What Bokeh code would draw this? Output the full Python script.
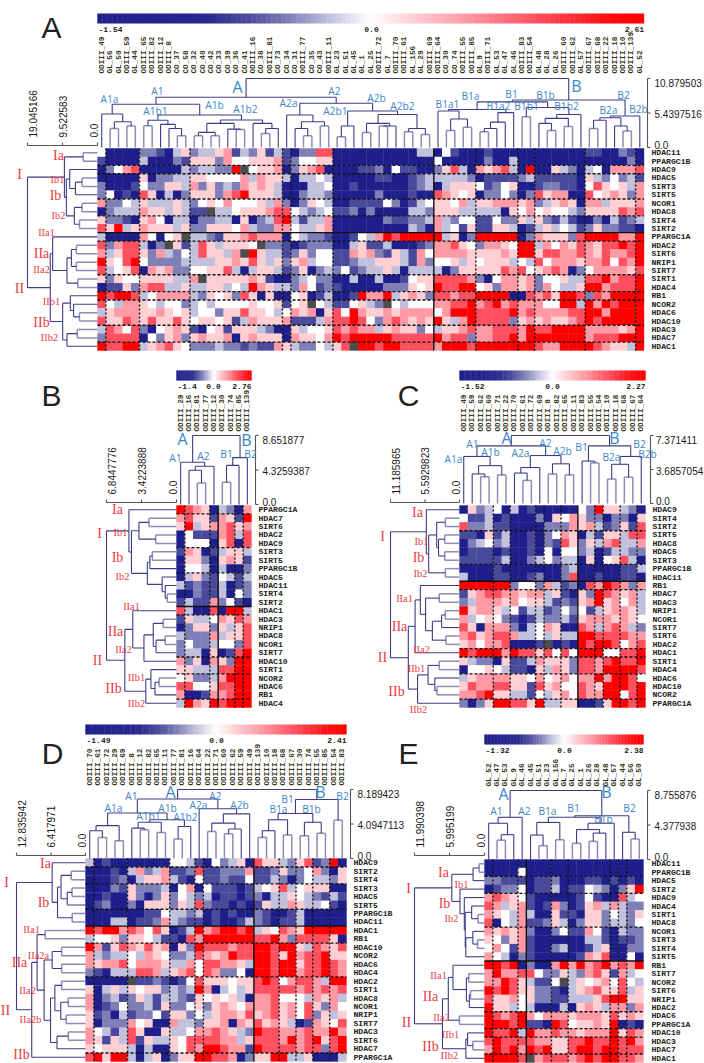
import math
from bokeh.plotting import figure, ColumnDataSource
from bokeh.models import LinearColorMapper
from bokeh.core.properties import value
from bokeh.transform import transform
from bokeh.embed import file_html
from bokeh.resources import INLINE

# ---------------- DATA ----------------
A_rows = "HDAC11 PPARGC1B HDAC9 HDAC5 SIRT3 SIRT5 NCOR1 HDAC8 SIRT4 SIRT2 PPARGC1A HDAC2 SIRT6 NRIP1 SIRT7 SIRT1 HDAC4 RB1 NCOR2 HDAC6 HDAC10 HDAC3 HDAC7 HDAC1".split()
A_cols = "ODIII_49 GL_56 GL_50 ODIII_59 GL_44 ODIII_65 ODIII_82 ODIII_12 ODIII_8 CO_37 CO_58 CO_32 CO_40 CO_42 CO_33 CO_39 CO_36 CO_41 ODIII_16 CO_38 ODIII_81 CO_73 CO_34 CO_31 ODIII_77 CO_35 CO_43 ODIII_11 GL_23 GL_51 GL_45 GL_1 GL_25 ODIII_72 GL_7 ODIII_70 ODIII_61 GL_156 GL_29 ODIII_69 ODIII_64 CO_30 CO_74 ODIII_55 ODIII_85 GL_9 ODIII_71 GL_53 GL_47 GL_46 ODIII_83 ODIII_54 GL_48 GL_28 GL_26 ODIII_60 ODIII_62 GL_57 ODIII_67 ODIII_68 ODIII_22 ODIII_18 ODIII_10 ODIII_139 GL_52".split()
A_cells = [
"4 0000 221035 23356132513 1 02277 000000000033 04100 01000 00 000000 110021 0",
"1 0000 300021 55526445556 1 24455 000000000000 40000 02003 00 000000 000002 0",
"0 2467 000003 233228x4556 0 25670 000112041100 25730 65673 08 005320 340666 7",
"0 0000 502233 55444463655 3 03343 000001100123 33332 01111 23 111110 532423 1",
"2 0001 422553 62523265653 0 00334 001000000123 03555 41245 00 122110 475453 6",
"2 4010 750302 55526785553 0 02332 000002000100 76545 02242 02 756600 745652 6",
"6 2243 533353 24546444536 2 02543 001111420134 55463 55666 56 235650 663555 6",
"0 2333 655353 11x33455567 7 43234 112020000332 55533 33305 46 454432 555576 7",
"5 2210 564033 02233050237 8 31336 000000211223 63244 11422 53 521310 020312 3",
"7 5835 655535 22555463226 6 43356 000000000320 63415 11553 01 353431 252211 0",
"3 0000 64045x 33215567666 0 43221 001436878888 83502 88888 02 655527 888866 8",
"7 2677 302x51 37535554x22 1 01222 003511300012 66754 26654 88 364657 657787 8",
"6 3577 526324 375536x8533 1 25244 116562153164 66665 55565 88 577667 657667 8",
"8 5478 422223 33355657535 2 56344 112335553162 44535 45553 43 746665 667476 8",
"7 3457 065622 44557303553 1 25023 241233530333 30255 55576 74 567602 466665 7",
"5 2544 555533 6x555556510 0 23422 003003001455 77776 20466 56 244533 778677 8",
"0 1152 677335 33553438653 3 26412 100000222545 87788 45266 56 264335 886777 8",
"8 7887 346666 32545275050 0 45013 001866835652 77677 88880 07 675887 276888 8",
"7 4366 543442 34344445445 1 45x43 114532x43444 66778 67867 66 644883 868788 8",
"3 5666 556545 34425575543 4 65605 748655656666 46888 77778 67 666677 886888 8",
"7 5576 575575 45545136555 6 11136 778742676565 85368 77772 56 565567 878888 8",
"3 7647 204565 10451555320 0 53445 767663565524 35567 66777 68 778888 666656 8",
"2 7777 042562 56556056555 0 65546 878888877777 86772 66778 68 888888 677788 8",
"8 7788 356754 22232212116 5 32243 57x887887777 68887 88888 88 766888 876553 8",
]
A_col_tree = [10.88,
 [7.92,
  [6.81,
   [5.28,0,[4.07,[3.0,0,0],[3.38,0,0]]],
   [5.12,
    [4.3,[3.43,0,0],[3.64,0,[3.0,0,[1.85,0,0]]]],
    [4.33,[3.8,[2.38,[1.85,0,0],[1.85,0,0]],[2.9,0,[2.85,0,0]]],[3.8,0,[3.0,[2.2,0,0],0]]]]],
  [6.97,
   [5.12,0,[4.07,[3.0,0,[1.85,0,0]],[3.38,0,0]]],
   [5.76,[3.38,[1.69,0,0],0],
    [5.2,[3.8,[2.38,0,0],[3.4,[3.38,0,0],0]],[3.0,[2.5,0,0],[2.05,0,0]]]]]],
 [7.5,
  [7.2,
   [6.0,[5.76,0,[4.5,[2.7,0,0],[3.2,0,0]]],[5.5,[4.0,[3.0,[2.5,0,0],0],0],0]],
   [6.3,[4.86,0,0],[5.2,[4.6,[3.8,0,[2.7,0,0]],[3.3,0,0]],0]]],
  [4.96,[4.7,[4.3,[3.0,0,0],0],[3.4,0,[2.6,0,0]]],0]]]
A_row_tree = [19.04,
 [9.0,[3.9,0,0],[8.47,[7.56,0,[6.0,[4.2,0,0],0]],[6.3,[4.2,0,0],[4.9,0,0]]]],
 [12.85,
  [12.2,0,[8.3,[7.1,[5.74,0,0],[5.74,0,0]],[5.37,0,0]]],
  [9.47,[7.4,0,[6.5,0,[4.9,0,0]]],[8.3,[5.5,0,0],0]]]]

B_rows = "PPARGC1A HDAC7 SIRT6 HDAC2 HDAC9 SIRT3 SIRT5 PPARGC1B HDAC5 HDAC11 SIRT4 SIRT2 HDAC1 HDAC3 NRIP1 HDAC8 NCOR1 SIRT7 HDAC10 SIRT1 NCOR2 HDAC6 RB1 HDAC4".split()
B_cols = "ODIII_29 ODIII_16 ODIII_81 ODIII_77 ODIII_12 ODIII_30 ODIII_74 ODIII_85 ODIII_139".split()
B_cells = ["876503206","675516518","583566756","041116737","044405707","165013553","055205651","044303002",
"035214313","312113012","002113042","131162410","730070883","153346576","025525357","322263557",
"242234427","233050178","625065288","553337788","452236888","774457788","600166788","386587888"]
B_col_tree = [8.65,[5.3,0,[4.8,[4.3,0,[2.7,0,0]],0]],[5.88,[4.9,[2.8,0,0],0],0]]
B_row_tree = [6.84,
 [4.65,0,[4.4,[3.67,[2.69,0,0],[2.03,0,0]],[2.85,[2.6,[2.36,0,0],0],[1.4,0,[1.1,0,[0.9,0,0]]]]]],
 [5.05,
  [4.27,0,[3.18,[2.27,[1.3,0,0],[2.0,[1.1,0,0],0]],0]],
  [3.0,[2.5,0,[2.1,[1.7,0,0],0]],0]]]

C_rows = "HDAC9 SIRT4 SIRT2 SIRT5 HDAC8 HDAC5 SIRT3 PPARGC1B HDAC11 RB1 HDAC7 HDAC3 NRIP1 NCOR1 SIRT7 SIRT6 HDAC2 HDAC1 SIRT1 HDAC4 HDAC6 HDAC10 NCOR2 PPARGC1A".split()
C_cols = "ODIII_49 ODIII_59 ODIII_62 ODIII_60 ODIII_71 ODIII_22 ODIII_70 ODIII_61 ODIII_72 ODIII_69 ODIII_8 ODIII_82 ODIII_65 ODIII_11 ODIII_83 ODIII_55 ODIII_54 ODIII_10 ODIII_18 ODIII_68 ODIII_67 ODIII_64".split()
C_cells = ["0523403010000042855320","4113010002054652202205","7223110000222656312517","1105130010246503155377",
"0234230010217525367336","0111010010404423013322","1111130023423305045730","0000100000002300000113",
"3000110012002700100110","8888882442631207687626","1567766566351052876563","2366656455312156856463",
"8566534133124241356653","6345421013223156665654","7506662034650076367632","6756776334353388777766",
"5646670001x01087887467","8788868775747488844778","5322051136555277678778","0445431105365277688887",
"3566665546456466868874","5766775517564476588878","6678553314356476688478","2025887758335500158878"]
C_col_tree = [7.37,
 [6.25,[5.1,0,[4.1,[3.2,0,[2.9,0,0]],[3.1,0,0]]],
  [5.2,[3.9,[3.3,0,[2.5,0,0]],0],[4.3,[3.2,0,0],[3.1,0,0]]]],
 [6.25,[4.6,0,[4.4,0,0]],[5.1,[4.25,[2.65,0,0],[2.85,0,0]],0]]]
C_row_tree = [11.19,
 [5.38,0,[5.0,[3.7,[2.3,0,0],[3.4,[2.4,0,0],[2.4,0,0]]],[2.3,0,0]]],
 [8.3,
  [7.2,[6.35,0,[5.5,[3.28,0,0],[4.4,[2.9,[2.3,0,0],0],[2.2,0,0]]]],0],
  [6.8,[5.1,[3.3,0,0],[4.0,0,[3.65,0,0]]],0]]]

D_rows = "HDAC9 SIRT2 SIRT4 SIRT3 HDAC5 SIRT5 PPARGC1B HDAC11 HDAC1 RB1 HDAC10 NCOR2 HDAC6 HDAC4 HDAC2 SIRT1 HDAC8 NCOR1 NRIP1 SIRT7 HDAC3 SIRT6 HDAC7 PPARGC1A".split()
D_cols = "ODIII_70 ODIII_61 ODIII_72 ODIII_29 ODIII_69 ODIII_8 ODIII_12 ODIII_82 ODIII_65 ODIII_11 ODIII_77 ODIII_81 ODIII_16 ODIII_64 ODIII_22 ODIII_71 ODIII_60 ODIII_62 ODIII_59 ODIII_49 ODIII_139 ODIII_10 ODIII_18 ODIII_68 ODIII_67 ODIII_30 ODIII_74 ODIII_55 ODIII_85 ODIII_54 ODIII_83".split()
D_cells = ["3010000000443104235075532571280","0001036236112711222611252246205","0001203556310411211411320243325",
"0002152223046041110134573455500","0010052025243230110120335432131","0120020555253721101015336533410",
"0000000114332301010021001300000","0003301126321101001321011300000","8788676475013867887835476588888",
"3445255431107688888877862777750","8615765756052877767788788537657","6323343654223765687788758677855",
"6566746665336477665388788577876","2103337763567476224088788677876","00000x1121014755545578746776388",
"5035354552323860343577777676767","6023125313321545453066744436563","6012422315224525654666756475264",
"5120312241552435665756756472535","5022264500633255606575653016547","6431375005334667653287766676686",
"6515371533547777663577768678578","5455530300547688766187777677278","7858830350255887760255883350003"]
D_col_tree = [8.19,
 [7.07,
  [5.4,
   [3.9,[3.3,0,[2.5,0,0]],[2.1,0,0]],
   [4.6,[4.3,[3.6,0,[3.4,0,0]],[3.1,0,0]],[3.8,[2.3,0,0],0]]],
  [5.9,0,[5.3,[4.2,[3.2,0,0],[3.5,[2.95,0,0],0]],0]]],
 [7.0,
  [5.35,[4.6,[3.3,[2.5,0,0],0],[2.8,0,0]],[4.3,[2.7,0,0],[3.0,0,0]]],
  [4.55,0,0]]]
D_row_tree = [12.83,
 [6.2,0,[5.2,[4.55,[2.65,0,0],[3.4,[2.5,0,0],0]],[2.47,0,0]]],
 [10.0,
  [9.0,[7.5,0,0],
   [7.7,[6.2,[4.44,0,0],[4.44,0,0]],
    [6.5,[5.7,[4.44,0,0],[4.6,[3.2,0,0],[3.6,0,0]]],[5.3,[3.2,0,0],0]]]],
  0]]

E_rows = "HDAC11 PPARGC1B HDAC5 SIRT2 HDAC9 HDAC4 SIRT1 HDAC8 NCOR1 SIRT3 SIRT4 SIRT5 RB1 SIRT7 NCOR2 SIRT6 NRIP1 HDAC2 HDAC6 PPARGC1A HDAC10 HDAC3 HDAC7 HDAC1".split()
E_cols = "GL_52 GL_47 GL_53 GL_9 GL_46 GL_45 GL_51 GL_23 GL_156 GL_7 GL_25 GL_1 GL_26 GL_28 GL_48 GL_57 GL_44 GL_56 GL_50".split()
E_cells = ["0000000000000000000","0000400000000000000","2211101120001101010","0122401130114320258",
"6765410000014100734","7635610162015636322","6543630051105524325","7043611253025523324",
"6565620024116410322","5425610000003310112","4641610023001350022","6430210000016570040",
"8878020068686786768","6866774225326751634","668753114x354564743","8787552210356755735",
"7556452211333578855","8553430003056536626","8767864666566657565","8887811087455658010",
"8778386676656668576","7877776655778778786","6878687855788788777","88887x6777678788776"]
E_col_tree = [8.75,
 [5.35,[4.6,0,[3.15,[2.45,0,0],0]],0],
 [5.55,
  [5.35,[4.7,[3.1,0,[1.75,0,0]],[2.5,0,0]],[4.6,[3.8,[2.05,0,0],[3.35,[2.3,0,0],0]],0]],
  [3.45,0,[2.6,0,0]]]]
E_row_tree = [11.99,
 [5.6,[1.96,[0.92,0,0],0],
  [4.2,0,[3.46,0,[3.3,[2.2,0,[1.1,0,0]],[3.2,[2.0,0,[1.2,0,0]],0]]]]],
 [7.2,
  [6.2,[5.4,0,[3.1,[2.7,0,0],[2.6,[2.4,0,0],0]]],[4.3,0,0]],
  [3.2,[2.9,0,[2.0,0,0]],0]]]

# colour-scale ends and tick texts of each panel
A_scale = (-1.54, 2.61); B_scale = (-1.4, 2.76); C_scale = (-1.52, 2.27); D_scale = (-1.49, 2.41); E_scale = (-1.32, 2.38)
A_ticks = (["10.879503","5.4397516","0.0"], ["19.045166","9.522583","0.0"])
B_ticks = (["8.651877","4.3259387","0.0"], ["6.8447776","3.4223888","0.0"])
C_ticks = (["7.371411","3.6857054","0.0"], ["11.185965","5.5929823","0.0"])
D_ticks = (["8.189423","4.0947113","0.0"], ["12.835942","6.417971","0.0"])
E_ticks = (["8.755876","4.377938","0.0"], ["11.990398","5.995199","0.0"])

# ---------------- LEVELS / COLOURS ----------------
LEVEL_T = {"0":-1.0,"1":-0.45,"2":-0.3,"3":-0.15,"4":0.0,"5":0.15,"6":0.35,"7":0.6,"8":1.0,"x":float("nan")}
STOPS = [(-1,"#1f1f8c"),(-.6,"#28288f"),(-.45,"#4a4a9c"),(-.3,"#8080b8"),(-.15,"#c2c2de"),(0,"#ffffff"),
         (.15,"#ffd0d5"),(.35,"#ff9aa5"),(.6,"#ff5060"),(.85,"#ff1015"),(1,"#ff0000")]
def hex2(c): return [int(c[i:i+2],16) for i in (1,3,5)]
palette=[]
for k in range(256):
    t=-1+2*k/255
    for (a,ca),(b,cb) in zip(STOPS,STOPS[1:]):
        if a<=t<=b:
            f=(t-a)/(b-a); A1=hex2(ca); B1=hex2(cb)
            palette.append("#%02x%02x%02x"%tuple(round(u+(v-u)*f) for u,v in zip(A1,B1)))
            break
mapper=LinearColorMapper(palette=palette,low=-1,high=1,nan_color="#4d4d4d")

# ---------------- LAYOUT (picture pixels) ----------------
W,H=704,1063
p=figure(width=W,height=H,x_range=(0,W),y_range=(H,0),output_backend="svg",toolbar_location=None,min_border=0)
p.axis.visible=False; p.grid.visible=False; p.outline_line_color=None
p.background_fill_color="white"; p.border_fill_color="white"

BLUE="#3b86c6"; RED="#ec3a44"; NAVY="#3c3c86"; LAV="#8c8cb6"; GREY="#555555"
RED_BIG={"I","II","Ia","Ib","IIa","IIb"}
def put(items,size,color,font,align="center",base="middle",angle=0,style="normal"):
    if not items: return
    p.text(x=[i[1] for i in items],y=[i[2] for i in items],text=[i[0] for i in items],
           text_font=value(font),text_font_size=value(size),text_color=color,text_font_style=style,
           text_align=align,text_baseline=base,angle=angle)

def walk(node,idx,acc,pos):
    if node==0:
        i=idx[0]; idx[0]+=1
        return pos(i),0.0
    h,a,b=node
    pa,ha=walk(a,idx,acc,pos); pb,hb=walk(b,idx,acc,pos)
    k="light" if a==0 and b==0 else "dark"
    acc[k].append((pa,ha,pb,hb,h))
    return (pa+pb)/2,h

def draw_tree(tree,pos,conv,vertical_top):
    acc={"light":[],"dark":[]}
    walk(tree,[0],acc,pos)
    for k,col,lw in (("light",LAV,1.5),("dark",NAVY,1.1)):
        x0=[];y0=[];x1=[];y1=[]
        for pa,ha,pb,hb,h in acc[k]:
            if vertical_top:
                segs=((pa,conv(ha),pa,conv(h)),(pb,conv(hb),pb,conv(h)),(pa,conv(h),pb,conv(h)))
            else:
                segs=((conv(ha),pa,conv(h),pa),(conv(hb),pb,conv(h),pb),(conv(h),pa,conv(h),pb))
            for s in segs:
                x0.append(s[0]);y0.append(s[1]);x1.append(s[2]);y1.append(s[3])
        p.segment(x0,y0,x1,y1,line_color=col,line_width=lw)

def fmt(v):
    s="%.2f"%v
    return s[:-1] if s.endswith("0") else s

def panel(cells,rows,cols,col_tree,row_tree,scale,ticks,g,hl,vl,solid):
    x0,x1,y0,y1=g["heat"]
    nr=len(rows); nc=len(cols)
    cw=(x1-x0)/nc; rh=(y1-y0)/nr
    xs=[];ys=[];ts=[];vals=[]
    for r,s in enumerate(cells):
        s=s.replace(" ","").ljust(nc,"4")[:nc]
        for c,ch in enumerate(s):
            xs.append(x0+(c+.5)*cw); ys.append(y0+(r+.5)*rh)
            t=LEVEL_T[ch]; ts.append(t)
            vals.append(t*(scale[1] if t>0 else -scale[0]))
    src=ColumnDataSource(dict(x=xs,y=ys,t=ts,v=vals))
    p.rect("x","y",width=cw+.35,height=rh+.35,source=src,fill_color=transform("t",mapper),line_color=None)
    # colour bar
    n=110; by0,by1=g["bar"]
    bw=(x1-x0)/n
    bs=ColumnDataSource(dict(x=[x0+(i+.5)*bw for i in range(n)],y=[(by0+by1)/2]*n,t=[-1+2*(i+.5)/n for i in range(n)]))
    p.rect("x","y",width=bw+.4,height=by1-by0,source=bs,fill_color=transform("t",mapper),line_color=None)
    ty=by1+6
    put([(fmt(scale[0]),x0+1,ty)],"8px","#222222","Liberation Mono","left",style="bold")
    put([("0.0",g["zero"],ty)],"8px","#222222","Liberation Mono","center",style="bold")
    put([(fmt(scale[1]),x1,ty)],"8px","#222222","Liberation Mono","right",style="bold")
    # labels
    put([(rows[r],g["rowx"],y0+(r+.5)*rh) for r in range(nr)],"8.1px","#222222","Liberation Mono","left",style="bold")
    put([(cols[c],x0+(c+.5)*cw,g["colb"]) for c in range(nc)],"7.7px","#35351c","Liberation Mono","left","middle",math.pi/2,"bold")
    # dendrograms
    ty0,ty1=g["top_y"]; tmax=col_tree[0]
    draw_tree(col_tree,lambda i:x0+(i+.5)*cw,lambda h:ty0-(ty0-ty1)*h/tmax,True)
    lx1=g["left_x"]; lmax=row_tree[0]
    draw_tree(row_tree,lambda i:y0+(i+.5)*rh,lambda h:x0-(x0-lx1)*h/lmax,False)
    # cluster lines
    p.segment([x0]*len(hl),[y0+k*rh for k in hl],[x1]*len(hl),[y0+k*rh for k in hl],line_color="#111111",line_width=1.4,line_dash="3 2")
    p.segment([x0+k*cw for k in vl],[y0]*len(vl),[x0+k*cw for k in vl],[y1]*len(vl),line_color="#111111",line_width=1.4,line_dash="2 2")
    sr,sc=solid
    p.segment([x0],[y0+sr*rh],[x1],[y0+sr*rh],line_color="#111111",line_width=1.4)
    p.segment([x0+sc*cw],[y0],[x0+sc*cw],[y1],line_color="#111111",line_width=1.4)
    # top scale bracket
    ax=g["ax"]; ym=(ty0+ty1)/2
    p.segment([ax,ax,ax,ax],[ty1,ty1,ym,ty0],[ax,ax+3,ax+3,ax+3],[ty0,ty1,ym,ty0],line_color=GREY,line_width=1.1)
    lx=g["tickx"]
    for txt,yy in zip(ticks[0],(ty1+4,ym+1,ty0-3)):
        put([(txt,lx,yy)],"10px","#1a1a1a","Liberation Sans","left")
    # left scale bracket
    ay=g["ay"]; xm=(lx1+x0)/2
    p.segment([lx1,lx1,xm,x0],[ay,ay,ay,ay],[x0,lx1,xm,x0],[ay,ay-3,ay-3,ay-3],line_color=GREY,line_width=1.1)
    for txt,xx in zip(ticks[1],(lx1+5,xm,x0-4)):
        put([(txt,xx,ay-8)],"10px","#1a1a1a","Liberation Sans","left","middle",math.pi/2)
    # annotation
    put([t for t in g["blue"] if t[0] in ("A","B")],"16px",BLUE,"Open Sans")
    put([t for t in g["blue"] if t[0] not in ("A","B")],"10.2px",BLUE,"Open Sans")
    put([t for t in g["red"] if t[0] in RED_BIG],"14px",RED,"Liberation Serif")
    put([t for t in g["red"] if t[0] not in RED_BIG],"10.4px",RED,"Liberation Serif")
    put([g["letter"]],"30px","#222222","Liberation Sans",base="alphabetic")

GA=dict(heat=(97,643.5,148,350),bar=(13,23),zero=371,rowx=651,colb=73,top_y=(147,78),left_x=27,ax=647,tickx=654,ay=145,letter=("A",51,27),
 blue=[("A",237,86),("A1",157,90),("A1a",109,98),("A1b1",155,110),("A1b",214,104),("A1b2",245,108),("A2a",288,102),("A2",334,90),("A2b1",335,110),
 ("A2b",376,97),("A2b2",402,105),("B1a1",447,103),("B1a",470,95),("B1a2",498,105),("B1",511,93),("B1b1",526,105),("B1b",545,94),("B1b2",566,105),("B",576,85),("B2",623,94),("B2a",608,109),("B2b",638,108)],
 red=[("Ia",58,155),("I",19,174),("Ib1",57,179),("Ib",55,195),("Ib2",58,215),("IIa1",46,232),("IIa",41,253),("IIa2",41,269),("II",19,288),("IIb1",51,301),("IIb",41,322),("IIb2",49,337)])
GB=dict(heat=(176,251,505,707),bar=(370,380),zero=213,rowx=258,colb=431,top_y=(504,435),left_x=106,ax=255,tickx=262,ay=502,letter=("B",51,395),
 blue=[("A",182,438),("B",246,439),("A1",175,457),("A2",203,455),("B1",226,453),("B2",250,453)],
 red=[("Ia",117,509),("I",99,533),("Ib1",120,532),("Ib",117,557),("Ib2",122,576),("IIa1",131,606),("IIa",115,631),("IIa2",123,649),("II",97,660),("IIb1",136,677),("IIb",113,688),("IIb2",136,703)])
GC=dict(heat=(459,645,505,707),bar=(370,380),zero=552,rowx=652,colb=431,top_y=(503,435),left_x=390,ax=650,tickx=655.5,ay=502,letter=("C",408,395),
 blue=[("A",506,437),("B",614,437),("A1",472,443),("A2",545,442),("A1a",453,458),("A1b",490,451),("A2a",520,452),("A2b",562,450),("B1",581,446),("B2",639,443),("B2a",611,456),("B2b",647,453)],
 red=[("Ia",417,512),("I",382,536),("Ib1",421,541),("Ib",418,557),("Ib2",420,573),("IIa1",404,598),("IIa",399,626),("IIa2",421,649),("II",382,657),("IIb1",416,668),("IIb",396,691),("IIb2",418,709)])
GD=dict(heat=(85,346,858,1061),bar=(724,734),zero=216,rowx=353,colb=785,top_y=(858,789),left_x=16,ax=350,tickx=357,ay=855,letter=("D",52,753),
 blue=[("A",170,791),("B",320,791),("A1",131,795),("A2",215,795),("A1a",113,807),("A1b",167,807),("A1b1",148,815),("A1b2",185,816),("A2a",198,804),("A2b",239,804),("B1",287,798),("B1a",278,808),("B1b",311,808),("B2",342,795)],
 red=[("Ia",45,863),("I",6,882),("Ib",43,902),("IIa1",31,929),("IIa2a",38,955),("IIa",19,962),("IIa2",27,990),("II",5,1010),("IIa2b",30,1019),("IIb",21,1054)])
GE=dict(heat=(484,643,859,1062),bar=(734,744),zero=564,rowx=651,colb=786,top_y=(859,790),left_x=414,ax=647,tickx=654,ay=855,letter=("E",408,753),
 blue=[("A",503,793),("B",606,791),("A1",496,810),("A2",524,810),("B1a",547,810),("B1",573,807),("B1b",603,818),("B2",629,807)],
 red=[("Ia",443,872),("I",408,888),("Ib1",461,884),("Ib",444,903),("Ib2",451,918),("IIa1",438,975),("IIa",430,996),("IIa2",441,1017),("II",406,1022),("IIb1",450,1034),("IIb",430,1046),("IIb2",449,1055)])

panel(A_cells,A_rows,A_cols,A_col_tree,A_row_tree,A_scale,A_ticks,GA,[2,3,6,8,11,15,17,18,21,23],[1,5,11,22,23,28,45,50,52,58,64],(10,40))
panel(B_cells,B_rows,B_cols,B_col_tree,B_row_tree,B_scale,B_ticks,GB,[1,5,8,13,18,20,23],[1,4,7,8],(12,5))
panel(C_cells,C_rows,C_cols,C_col_tree,C_row_tree,C_scale,C_ticks,GC,[3,7,10,17,18,20,23],[4,6,9,10,12,16,17,19,21],(9,14))
panel(D_cells,D_rows,D_cols,D_col_tree,D_row_tree,D_scale,D_ticks,GD,[1,3,6,10,14,23],[1,5,10,13,14,23,25,27,29],(8,20))
panel(E_cells,E_rows,E_cols,E_col_tree,E_row_tree,E_scale,E_ticks,GE,[2,4,8,18,20,21,23],[1,4,8,10,15,16,17],(12,5))

open("out.html","w").write(file_html(p,INLINE))
